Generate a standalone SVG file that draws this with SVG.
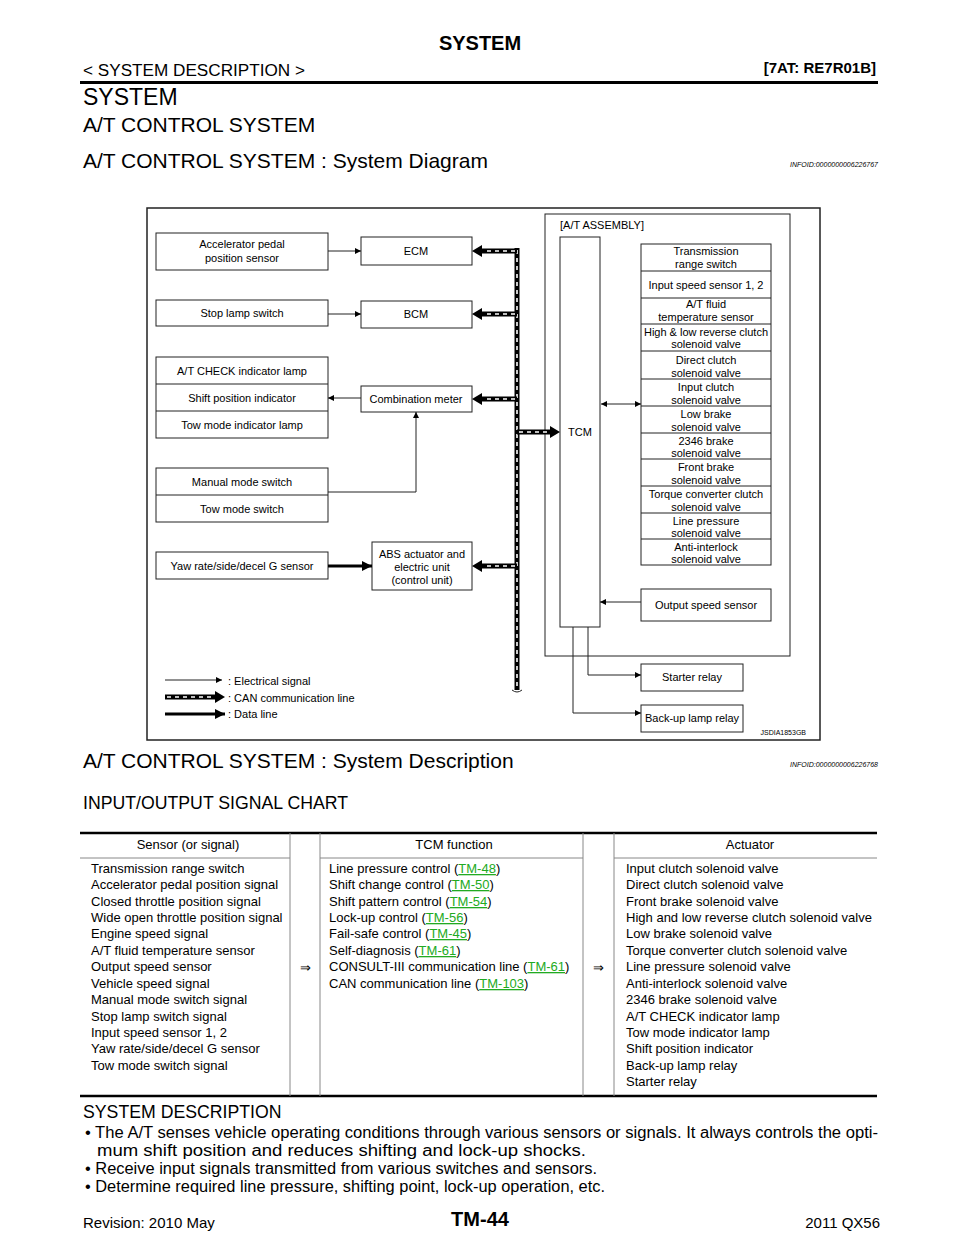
<svg xmlns="http://www.w3.org/2000/svg" width="960" height="1242" viewBox="0 0 960 1242">
<defs>
<style>
text{font-family:"Liberation Sans",Arial,sans-serif;fill:#000}
.d{font-size:11px;text-anchor:middle}
.b{fill:#fff;stroke:#222;stroke-width:1}
.e{stroke:#222;stroke-width:1;fill:none}
.dl{stroke:#000;stroke-width:3;fill:none}
.cb{stroke:#000;stroke-width:5;fill:none}
.cw{stroke:#fff;stroke-width:1.6;stroke-dasharray:4 4;fill:none}
.t{font-size:13px}
.lk{fill:#2a2;text-decoration:underline}
</style>
<marker id="a" viewBox="0 0 10 10" refX="10" refY="5" markerWidth="8" markerHeight="6" markerUnits="userSpaceOnUse" orient="auto-start-reverse"><path d="M0,0L10,5L0,10z" fill="#000"/></marker>
<marker id="A" viewBox="0 0 10 10" refX="10" refY="5" markerWidth="10" markerHeight="12" markerUnits="userSpaceOnUse" orient="auto-start-reverse"><path d="M0,0L10,5L0,10z" fill="#000"/></marker>
</defs>
<rect width="960" height="1242" fill="#fff"/>
<text x="480" y="50" font-size="20" font-weight="bold" text-anchor="middle">SYSTEM</text>
<text x="83" y="76" font-size="16" textLength="222" lengthAdjust="spacingAndGlyphs">&lt; SYSTEM DESCRIPTION &gt;</text>
<text x="876" y="73" font-size="15" font-weight="bold" text-anchor="end">[7AT: RE7R01B]</text>
<line x1="80" y1="82.5" x2="878" y2="82.5" stroke="#000" stroke-width="3"/>
<text x="83" y="105" font-size="23">SYSTEM</text>
<text x="83" y="132" font-size="21">A/T CONTROL SYSTEM</text>
<text x="83" y="168" font-size="21">A/T CONTROL SYSTEM : System Diagram</text>
<text x="878" y="167" font-size="7" font-style="italic" text-anchor="end" fill="#333">INFOID:0000000006226767</text>

<rect x="147" y="208" width="673" height="532" fill="none" stroke="#222" stroke-width="1.5"/>

<g id="accel"><rect class="b" x="156" y="233" width="172" height="37"/><text class="d" x="242" y="248">Accelerator pedal</text><text class="d" x="242" y="262">position sensor</text></g>
<g id="stop"><rect class="b" x="156" y="300" width="172" height="26"/><text class="d" x="242" y="317">Stop lamp switch</text></g>
<g id="indicators"><rect class="b" x="156" y="357" width="172" height="81"/><line class="e" x1="156" y1="384" x2="328" y2="384"/><line class="e" x1="156" y1="411" x2="328" y2="411"/>
<text class="d" x="242" y="375">A/T CHECK indicator lamp</text><text class="d" x="242" y="402">Shift position indicator</text><text class="d" x="242" y="429">Tow mode indicator lamp</text></g>
<g id="switches"><rect class="b" x="156" y="468" width="172" height="54"/><line class="e" x1="156" y1="495" x2="328" y2="495"/>
<text class="d" x="242" y="486">Manual mode switch</text><text class="d" x="242" y="513">Tow mode switch</text></g>
<g id="yaw"><rect class="b" x="156" y="552" width="172" height="27"/><text class="d" x="242" y="570">Yaw rate/side/decel G sensor</text></g>
<g id="ecm"><rect class="b" x="361" y="237" width="111" height="28"/><text class="d" x="416" y="255">ECM</text></g>
<g id="bcm"><rect class="b" x="361" y="301" width="111" height="27"/><text class="d" x="416" y="318">BCM</text></g>
<g id="meter"><rect class="b" x="361" y="386" width="111" height="26"/><text class="d" x="416" y="403">Combination meter</text></g>
<g id="abs"><rect class="b" x="372" y="542" width="100" height="48"/><text class="d" x="422" y="558">ABS actuator and</text><text class="d" x="422" y="571">electric unit</text><text class="d" x="422" y="584">(control unit)</text></g>
<g id="assembly"><rect x="545" y="214" width="245" height="442" fill="none" stroke="#222"/><text x="560" y="229" font-size="11">[A/T ASSEMBLY]</text></g>
<g id="tcm"><rect class="b" x="560" y="237" width="40" height="390"/><text class="d" x="580" y="436">TCM</text></g>
<g id="solenoids">
<rect class="b" x="641" y="244" width="130" height="321"/>
<g class="e"><line x1="641" y1="271" x2="771" y2="271"/><line x1="641" y1="298" x2="771" y2="298"/><line x1="641" y1="324" x2="771" y2="324"/><line x1="641" y1="351" x2="771" y2="351"/><line x1="641" y1="379" x2="771" y2="379"/><line x1="641" y1="406" x2="771" y2="406"/><line x1="641" y1="433" x2="771" y2="433"/><line x1="641" y1="459" x2="771" y2="459"/><line x1="641" y1="486" x2="771" y2="486"/><line x1="641" y1="513" x2="771" y2="513"/><line x1="641" y1="539" x2="771" y2="539"/></g>
<text class="d" x="706" y="255">Transmission</text><text class="d" x="706" y="268">range switch</text>
<text class="d" x="706" y="289">Input speed sensor 1, 2</text>
<text class="d" x="706" y="308">A/T fluid</text><text class="d" x="706" y="321">temperature sensor</text>
<text class="d" x="706" y="336">High &amp; low reverse clutch</text><text class="d" x="706" y="348">solenoid valve</text>
<text class="d" x="706" y="364">Direct clutch</text><text class="d" x="706" y="377">solenoid valve</text>
<text class="d" x="706" y="391">Input clutch</text><text class="d" x="706" y="404">solenoid valve</text>
<text class="d" x="706" y="418">Low brake</text><text class="d" x="706" y="431">solenoid valve</text>
<text class="d" x="706" y="445">2346 brake</text><text class="d" x="706" y="457">solenoid valve</text>
<text class="d" x="706" y="471">Front brake</text><text class="d" x="706" y="484">solenoid valve</text>
<text class="d" x="706" y="498">Torque converter clutch</text><text class="d" x="706" y="511">solenoid valve</text>
<text class="d" x="706" y="525">Line pressure</text><text class="d" x="706" y="537">solenoid valve</text>
<text class="d" x="706" y="551">Anti-interlock</text><text class="d" x="706" y="563">solenoid valve</text>
</g>
<g id="oss"><rect class="b" x="641" y="589" width="130" height="32"/><text class="d" x="706" y="609">Output speed sensor</text></g>
<g id="starter"><rect class="b" x="641" y="664" width="102" height="27"/><text class="d" x="692" y="681">Starter relay</text></g>
<g id="backup"><rect class="b" x="641" y="705" width="102" height="27"/><text class="d" x="692" y="722">Back-up lamp relay</text></g>

<g id="connectors">
<line class="e" x1="328" y1="251" x2="361" y2="251" marker-end="url(#a)"/>
<line class="e" x1="328" y1="314" x2="361" y2="314" marker-end="url(#a)"/>
<line class="e" x1="361" y1="398" x2="328" y2="398" marker-end="url(#a)"/>
<polyline class="e" points="328,492 416,492 416,412" marker-end="url(#a)"/>
<line class="dl" x1="328" y1="566" x2="372" y2="566" marker-end="url(#A)"/>
<line class="e" x1="601" y1="404" x2="641" y2="404" marker-start="url(#a)" marker-end="url(#a)"/>
<line class="e" x1="641" y1="602" x2="600" y2="602" marker-end="url(#a)"/>
<polyline class="e" points="588,627 588,675 641,675" marker-end="url(#a)"/>
<polyline class="e" points="573,627 573,713 641,713" marker-end="url(#a)"/>
<g>
<line class="cb" x1="517" y1="248" x2="517" y2="690"/><line class="cw" x1="517" y1="250" x2="517" y2="690"/>
<line class="cb" x1="517" y1="251" x2="482" y2="251"/><line class="cw" x1="515" y1="251" x2="484" y2="251"/>
<line class="cb" x1="517" y1="314" x2="482" y2="314"/><line class="cw" x1="515" y1="314" x2="484" y2="314"/>
<line class="cb" x1="517" y1="399" x2="482" y2="399"/><line class="cw" x1="515" y1="399" x2="484" y2="399"/>
<line class="cb" x1="517" y1="566" x2="482" y2="566"/><line class="cw" x1="515" y1="566" x2="484" y2="566"/>
<line class="cb" x1="517" y1="432" x2="550" y2="432"/><line class="cw" x1="519" y1="432" x2="548" y2="432"/>
<path d="M482,245L472,251L482,257zM482,308L472,314L482,320zM482,393L472,399L482,405zM482,560L472,566L482,572zM550,426L560,432L550,438z"/>
<path d="M512,690Q517,694 522,690" class="e"/>
</g>
</g>
<g id="legend">
<line class="e" x1="165" y1="680" x2="222" y2="680" marker-end="url(#a)"/>
<line class="cb" x1="165" y1="697" x2="215" y2="697"/><line class="cw" x1="167" y1="697" x2="215" y2="697"/><path d="M215,691L225,697L215,703z"/>
<line class="dl" x1="165" y1="714" x2="225" y2="714" marker-end="url(#A)"/>
<text x="228" y="685" font-size="11">: Electrical signal</text>
<text x="228" y="702" font-size="11">: CAN communication line</text>
<text x="228" y="718" font-size="11">: Data line</text>
</g>
<text x="806" y="735" font-size="7" text-anchor="end">JSDIA1853GB</text>

<text x="83" y="768" font-size="21">A/T CONTROL SYSTEM : System Description</text>
<text x="878" y="767" font-size="7" font-style="italic" text-anchor="end" fill="#333">INFOID:0000000006226768</text>
<text x="83" y="809" font-size="17.7">INPUT/OUTPUT SIGNAL CHART</text>

<g id="table">
<line x1="80" y1="833" x2="877" y2="833" stroke="#000" stroke-width="2.5"/>
<line x1="80" y1="1096" x2="877" y2="1096" stroke="#000" stroke-width="2.5"/>
<g stroke="#888" stroke-width="1"><line x1="80" y1="858" x2="290" y2="858"/><line x1="320" y1="858" x2="583" y2="858"/><line x1="614" y1="858" x2="877" y2="858"/>
<line x1="290" y1="833" x2="290" y2="1096"/><line x1="320" y1="833" x2="320" y2="1096"/><line x1="583" y1="833" x2="583" y2="1096"/><line x1="614" y1="833" x2="614" y2="1096"/></g>
<text class="t" x="188" y="849" text-anchor="middle">Sensor (or signal)</text>
<text class="t" x="454" y="849" text-anchor="middle">TCM function</text>
<text class="t" x="750" y="849" text-anchor="middle">Actuator</text>
<text class="t" x="305" y="972" text-anchor="middle">⇒</text>
<text class="t" x="598" y="972" text-anchor="middle">⇒</text>
<g class="t">
<text x="91" y="873">Transmission range switch</text>
<text x="91" y="889">Accelerator pedal position signal</text>
<text x="91" y="906">Closed throttle position signal</text>
<text x="91" y="922">Wide open throttle position signal</text>
<text x="91" y="938">Engine speed signal</text>
<text x="91" y="955">A/T fluid temperature sensor</text>
<text x="91" y="971">Output speed sensor</text>
<text x="91" y="988">Vehicle speed signal</text>
<text x="91" y="1004">Manual mode switch signal</text>
<text x="91" y="1021">Stop lamp switch signal</text>
<text x="91" y="1037">Input speed sensor 1, 2</text>
<text x="91" y="1053">Yaw rate/side/decel G sensor</text>
<text x="91" y="1070">Tow mode switch signal</text>
<text x="329" y="873">Line pressure control (<tspan class="lk">TM-48</tspan>)</text>
<text x="329" y="889">Shift change control (<tspan class="lk">TM-50</tspan>)</text>
<text x="329" y="906">Shift pattern control (<tspan class="lk">TM-54</tspan>)</text>
<text x="329" y="922">Lock-up control (<tspan class="lk">TM-56</tspan>)</text>
<text x="329" y="938">Fail-safe control (<tspan class="lk">TM-45</tspan>)</text>
<text x="329" y="955">Self-diagnosis (<tspan class="lk">TM-61</tspan>)</text>
<text x="329" y="971">CONSULT-III communication line (<tspan class="lk">TM-61</tspan>)</text>
<text x="329" y="988">CAN communication line (<tspan class="lk">TM-103</tspan>)</text>
<text x="626" y="873">Input clutch solenoid valve</text>
<text x="626" y="889">Direct clutch solenoid valve</text>
<text x="626" y="906">Front brake solenoid valve</text>
<text x="626" y="922" textLength="246" lengthAdjust="spacingAndGlyphs">High and low reverse clutch solenoid valve</text>
<text x="626" y="938">Low brake solenoid valve</text>
<text x="626" y="955">Torque converter clutch solenoid valve</text>
<text x="626" y="971">Line pressure solenoid valve</text>
<text x="626" y="988">Anti-interlock solenoid valve</text>
<text x="626" y="1004">2346 brake solenoid valve</text>
<text x="626" y="1021">A/T CHECK indicator lamp</text>
<text x="626" y="1037">Tow mode indicator lamp</text>
<text x="626" y="1053">Shift position indicator</text>
<text x="626" y="1070">Back-up lamp relay</text>
<text x="626" y="1086">Starter relay</text>
</g>
</g>

<text x="83" y="1118" font-size="17.7">SYSTEM DESCRIPTION</text>
<g font-size="16">
<text x="85" y="1138" textLength="793" lengthAdjust="spacingAndGlyphs">• The A/T senses vehicle operating conditions through various sensors or signals. It always controls the opti-</text>
<text x="97" y="1156" textLength="489" lengthAdjust="spacingAndGlyphs">mum shift position and reduces shifting and lock-up shocks.</text>
<text x="85" y="1174" textLength="512" lengthAdjust="spacingAndGlyphs">• Receive input signals transmitted from various switches and sensors.</text>
<text x="85" y="1192" textLength="520" lengthAdjust="spacingAndGlyphs">• Determine required line pressure, shifting point, lock-up operation, etc.</text>
</g>
<text x="83" y="1228" font-size="15">Revision: 2010 May</text>
<text x="480" y="1226" font-size="20" font-weight="bold" text-anchor="middle">TM-44</text>
<text x="880" y="1228" font-size="15" text-anchor="end">2011 QX56</text>
</svg>
